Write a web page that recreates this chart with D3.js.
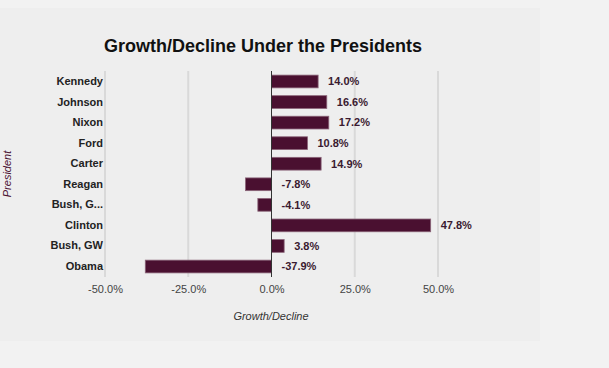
<!DOCTYPE html>
<html>
<head>
<meta charset="utf-8">
<script src="https://cdn.jsdelivr.net/npm/d3@7"></script>
<style>
	body { margin: 0; background: #f2f2f2; font-family: "Liberation Sans", Arial, sans-serif; }
	svg { display: block; }
</style>
</head>
<body>
<div id="chart"></div>
<script>
// data
var presidents = ["Kennedy", "Johnson", "Nixon", "Ford", "Carter", "Reagan", "Bush, G...", "Clinton", "Bush, GW", "Obama"];
var growth = [14.0, 16.6, 17.2, 10.8, 14.9, -7.8, -4.1, 47.8, 3.8, -37.9];
var xTicks = [-50, -25, 0, 25, 50];

var width = 609, height = 368;
var fmt = function(d){ return d.toFixed(1) + "%"; };

var svg = d3.select("#chart").append("svg")
	.attr("width", width)
	.attr("height", height);

// panel
svg.append("rect")
	.attr("x", 0).attr("y", 8)
	.attr("width", 540).attr("height", 333)
	.attr("fill", "#eeeeee");

var x = d3.scaleLinear().domain([-50, 50]).range([105, 438]);
var y = d3.scaleBand().domain(presidents).range([71, 277]).paddingInner(0.38).paddingOuter(0.2);

// gridlines
svg.append("g").selectAll("line")
	.data(xTicks.filter(function(d){ return d != 0; }))
	.enter().append("line")
	.attr("x1", function(d){ return x(d); })
	.attr("x2", function(d){ return x(d); })
	.attr("y1", 71).attr("y2", 277)
	.attr("stroke", "#d9d9d9")
	.attr("stroke-width", 2);

// x axis labels
var xAxis = d3.axisBottom(x).tickValues(xTicks).tickSize(0).tickPadding(8).tickFormat(fmt);
svg.append("g")
	.attr("transform", "translate(0,277)")
	.call(xAxis)
	.call(function(g){ g.select(".domain").remove(); })
	.selectAll("text")
	.attr("fill", "#444")
	.style("font-family", "'Liberation Sans', Arial, sans-serif")
	.style("font-size", "11px");

// y axis labels
var yAxis = d3.axisLeft(y).tickSize(0).tickPadding(2);
svg.append("g")
	.attr("transform", "translate(105,0)")
	.call(yAxis)
	.call(function(g){ g.select(".domain").remove(); })
	.selectAll("text")
	.attr("fill", "#222")
	.style("font-family", "'Liberation Sans', Arial, sans-serif")
	.style("font-size", "11px")
	.style("font-weight", "bold");

var data = presidents.map(function(p, i){ return { name: p, value: growth[i] }; });

// bars
svg.append("g").selectAll("rect")
	.data(data)
	.enter().append("rect")
	.attr("x", function(d){ return x(Math.min(0, d.value)); })
	.attr("y", function(d){ return y(d.name); })
	.attr("width", function(d){ return Math.abs(x(d.value) - x(0)); })
	.attr("height", y.bandwidth())
	.attr("fill", "#4a1030")
	.attr("stroke", "#8a6478")
	.attr("stroke-width", 0.8);

// zero line
svg.append("line")
	.attr("x1", x(0)).attr("x2", x(0))
	.attr("y1", 71).attr("y2", 277)
	.attr("stroke", "#333")
	.attr("stroke-width", 1);

// value labels
svg.append("g").selectAll("text")
	.data(data)
	.enter().append("text")
	.attr("x", function(d){ return x(Math.max(0, d.value)) + 10; })
	.attr("y", function(d){ return y(d.name) + y.bandwidth() / 2; })
	.attr("dy", "0.35em")
	.attr("fill", "#3a1a30")
	.style("font-size", "11px")
	.style("font-weight", "bold")
	.text(function(d){ return fmt(d.value); });

// title
svg.append("text")
	.attr("x", 263).attr("y", 52)
	.attr("text-anchor", "middle")
	.style("font-size", "18px")
	.style("font-weight", "bold")
	.attr("fill", "#111")
	.text("Growth/Decline Under the Presidents");

// axis titles
svg.append("text")
	.attr("x", 271).attr("y", 320)
	.attr("text-anchor", "middle")
	.style("font-size", "11px")
	.style("font-style", "italic")
	.attr("fill", "#333")
	.text("Growth/Decline");

svg.append("text")
	.attr("transform", "translate(11,174) rotate(-90)")
	.attr("text-anchor", "middle")
	.style("font-size", "11px")
	.style("font-style", "italic")
	.attr("fill", "#4a1030")
	.text("President");
</script>
</body>
</html>
